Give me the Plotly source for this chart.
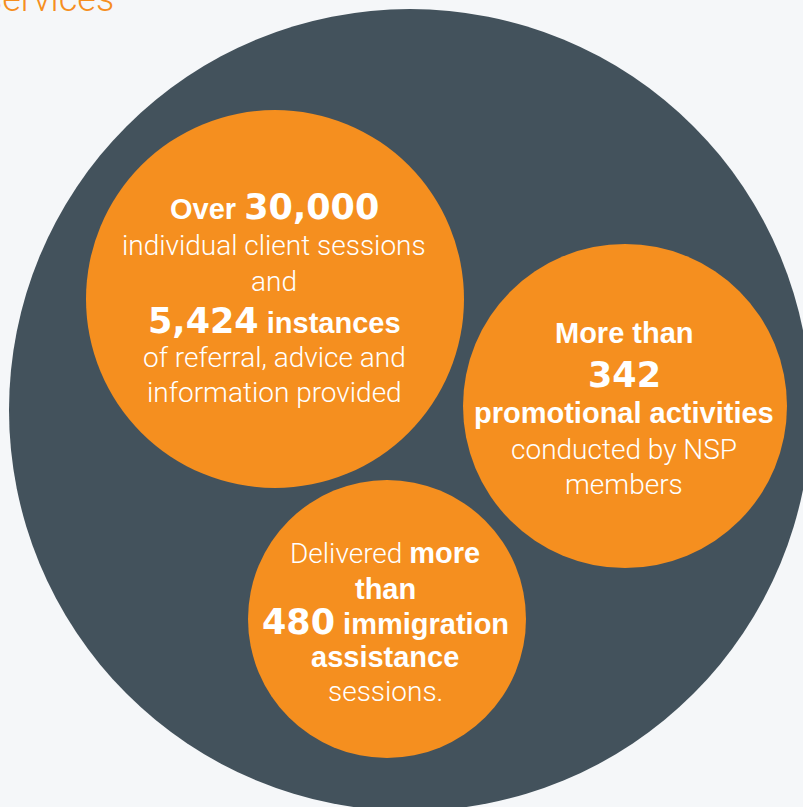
import plotly.graph_objects as go

# ---- content ----
title_text = "services"

# each bubble: list of lines, each line a list of (text, kind) segments
bubble1_lines = [
    [("Over ", "bold"), ("30,000", "num")],
    [("individual client sessions", "light")],
    [("and", "light")],
    [("5,424", "num"), (" instances", "bold")],
    [("of referral, advice and", "light")],
    [("information provided", "light")],
]
bubble2_lines = [
    [("More than", "bold")],
    [("342", "num")],
    [("promotional activities", "bold")],
    [("conducted by NSP", "light")],
    [("members", "light")],
]
bubble3_lines = [
    [("Delivered ", "light"), ("more", "bold")],
    [("than", "bold")],
    [("480", "num"), (" immigration", "bold")],
    [("assistance", "bold")],
    [("sessions.", "light")],
]

# ---- layout geometry (pixels in a 803x807 canvas) ----
W, H = 803, 807
outer = dict(cx=410, cy=410, r=401)
bubbles = [
    dict(cx=275, cy=299, r=189, tx=274, lines=bubble1_lines, ys=[207, 245, 281, 321, 357, 392]),
    dict(cx=625, cy=406, r=162, tx=624, lines=bubble2_lines, ys=[333, 375, 413, 449, 484]),
    dict(cx=387, cy=619, r=139, tx=385, lines=bubble3_lines, ys=[553, 589, 622, 657, 691]),
]

BG = "#f5f7f9"
DARK = "#43525c"
ORANGE = "#f58f1f"
LIGHT_FONT = "Roboto"
BOLD_FONT = "Liberation Sans"
NUM_FONT = "DejaVu Sans"
SIZES = {"light": 28, "bold": 29, "num": 35}


def seg_html(text, kind):
    if kind == "light":
        return f'<span style="font-family:{LIGHT_FONT};font-weight:300;font-size:{SIZES[kind]}px">{text}</span>'
    fam = NUM_FONT if kind == "num" else BOLD_FONT
    return f'<span style="font-family:{fam};font-weight:bold;font-size:{SIZES[kind]}px">{text}</span>'


fig = go.Figure()
fig.add_trace(go.Scatter(x=[0, W], y=[0, H], mode="markers", marker=dict(opacity=0),
                         hoverinfo="skip", showlegend=False))

shapes = [dict(type="circle", xref="x", yref="y",
               x0=outer["cx"] - outer["r"], x1=outer["cx"] + outer["r"],
               y0=outer["cy"] - outer["r"], y1=outer["cy"] + outer["r"],
               fillcolor=DARK, line=dict(width=0), layer="below")]
annotations = []
for b in bubbles:
    shapes.append(dict(type="circle", xref="x", yref="y",
                       x0=b["cx"] - b["r"], x1=b["cx"] + b["r"],
                       y0=b["cy"] - b["r"], y1=b["cy"] + b["r"],
                       fillcolor=ORANGE, line=dict(width=0), layer="below"))
    for line, y in zip(b["lines"], b["ys"]):
        annotations.append(dict(
            x=b["tx"], y=y, xref="x", yref="y", showarrow=False,
            xanchor="center", yanchor="middle",
            text="".join(seg_html(t, k) for t, k in line),
            font=dict(color="white", family=LIGHT_FONT, size=SIZES["light"]),
        ))

annotations.append(dict(
    x=116 / W, y=1, xref="paper", yref="paper", showarrow=False,
    xanchor="right", yanchor="bottom", yshift=-22, text=title_text,
    font=dict(color=ORANGE, family=LIGHT_FONT, size=36, weight=300),
))

fig.update_layout(
    width=W, height=H, margin=dict(l=0, r=0, t=0, b=0),
    paper_bgcolor=BG, plot_bgcolor=BG,
    xaxis=dict(range=[0, W], visible=False, fixedrange=True),
    yaxis=dict(range=[H, 0], visible=False, fixedrange=True),
    shapes=shapes, annotations=annotations, showlegend=False,
)
fig.write_html("out.html", config={"displayModeBar": False},
               post_script="document.body.style.margin='0';")
